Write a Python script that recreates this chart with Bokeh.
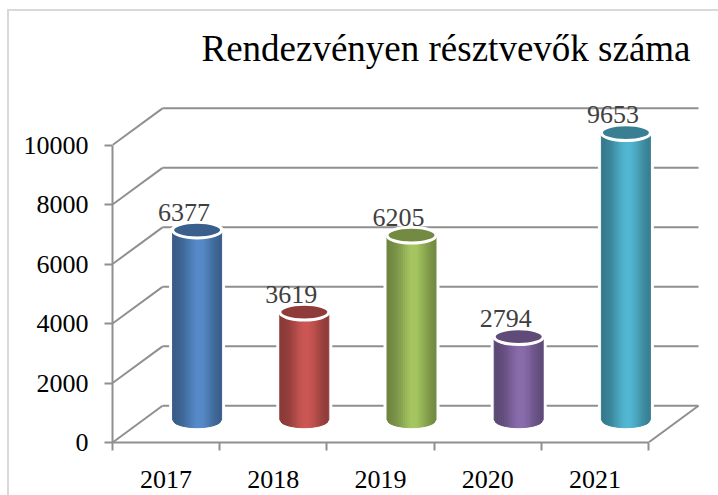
import numpy as np
from bokeh.plotting import figure
from bokeh.models import Range1d, FixedTicker, InlineStyleSheet
from bokeh.embed import file_html
from bokeh.resources import INLINE
from bokeh.core.properties import value

# ---- data ----
years = ["2017", "2018", "2019", "2020", "2021"]
participants = [6377, 3619, 6205, 2794, 9653]
y_ticks = [0, 2000, 4000, 6000, 8000, 10000]
title_text = "Rendezvényen résztvevők száma"

# ---- style ----
base_colors = ["#4F81BD", "#C0504D", "#9BBB59", "#8064A2", "#4BACC6"]
FONT = "'Liberation Serif', 'Times New Roman', serif"
GRID = "#8f8f8f"

W, H = 718, 495
ML, MR, MT, MB = 112, 18, 90, 53
fw, fh = W - ML - MR, H - MT - MB
n = len(years)
px_x = 107.2                    # pixels per category
px_y = 300.0 / max(y_ticks)     # pixels per value unit
DX = 50 / px_x                  # depth offset (x units)
DY = 37 / px_y                  # depth offset (value units)
f = 0.62                        # depth position of cylinders
a = 24.5 / px_x                 # cylinder half width
b = 8.0 / px_y                  # ellipse half height


def hex2rgb(h):
    h = h.lstrip("#")
    return np.array([int(h[i:i + 2], 16) for i in (0, 2, 4)], dtype=float)


def rgb2hex(c):
    c = np.clip(np.round(c), 0, 255).astype(int)
    return "#%02x%02x%02x" % tuple(c)


border_css = InlineStyleSheet(css="""
:host { position: relative; }
:host::after {
  content: ""; position: absolute; left: 7px; top: 9px; right: 0; bottom: 0;
  border-left: 2px solid #d9d9d9; border-top: 2px solid #d9d9d9;
  pointer-events: none; z-index: 100;
}
""")

p = figure(width=W, height=H, output_backend="svg", toolbar_location=None,
           x_range=Range1d(0, fw / px_x), y_range=Range1d(0, fh / px_y),
           min_border_left=ML, min_border_right=MR, min_border_top=MT,
           min_border_bottom=MB, outline_line_color=None,
           background_fill_color="white", border_fill_color="white",
           stylesheets=[border_css])
p.xgrid.visible = False
p.ygrid.visible = False

# title
p.title.text = title_text
p.title.align = "left"
p.title.offset = 89
p.title.text_font = FONT
p.title.text_font_size = "37px"
p.title.text_font_style = "normal"
p.title.text_color = "#000000"
p.title.standoff = 50

# walls / floor
x0s, y0s, x1s, y1s = [], [], [], []
for t in y_ticks:
    x0s.append(DX); y0s.append(t + DY); x1s.append(n + DX); y1s.append(t + DY)
    x0s.append(0); y0s.append(t); x1s.append(DX); y1s.append(t + DY)
x0s.append(n); y0s.append(0); x1s.append(n + DX); y1s.append(DY)
p.segment(x0=x0s, y0=y0s, x1=x1s, y1=y1s, line_color=GRID, line_width=2)

# cylinders
NS = 24
for i, (v, col) in enumerate(zip(participants, base_colors)):
    cx = i + 0.5 + f * DX
    yb = f * DY
    yt = v + f * DY
    rgb = hex2rgb(col)
    dark = rgb * 0.70
    light = np.minimum(rgb * 1.04 + 4, 255)
    # white outline silhouette
    p.quad(left=[cx - a], right=[cx + a], bottom=[yb], top=[yt],
           fill_color="white", line_color="white", line_width=7)
    p.ellipse(x=[cx], y=[yb], width=[2 * a], height=[2 * b],
              fill_color="white", line_color="white", line_width=7)
    xs, ys, cols = [], [], []
    for k in range(NS):
        s0 = k / NS
        s1 = (k + 1) / NS
        xa = cx - a + 2 * a * s0
        xb = cx - a + 2 * a * s1
        def ybot(xx):
            u = (xx - cx) / a
            return yb - b * np.sqrt(max(0.0, 1 - u * u))
        xs.append([xa, xb, xb, xa])
        ys.append([yt, yt, ybot(xb), ybot(xa)])
        sm = (s0 + s1) / 2
        w = np.exp(-((sm - 0.55) / 0.30) ** 2)
        cols.append(rgb2hex(dark + (light - dark) * w))
    p.patches(xs=xs, ys=ys, fill_color=cols, line_color=cols, line_width=1)
    p.ellipse(x=[cx], y=[yt], width=[2 * a], height=[2 * b],
              fill_color=rgb2hex(rgb * 0.74), line_color="white", line_width=3)
    p.text(x=[cx - 13 / px_x], y=[yt + b], text=[str(v)],
           text_align="center", text_baseline="alphabetic", y_offset=-10,
           text_font=value(FONT), text_font_size="26px", text_color="#404040")

# y axis (front)
p.yaxis.ticker = FixedTicker(ticks=y_ticks)
p.yaxis.bounds = (0, max(y_ticks))
p.yaxis.axis_line_color = GRID
p.yaxis.axis_line_width = 2
p.yaxis.major_tick_line_color = GRID
p.yaxis.major_tick_line_width = 2
p.yaxis.major_tick_out = 8
p.yaxis.major_tick_in = 0
p.yaxis.minor_tick_line_color = None
p.yaxis.major_label_standoff = 16
p.yaxis.major_label_text_font = FONT
p.yaxis.major_label_text_font_size = "26px"
p.yaxis.major_label_text_color = "#000000"

# x axis (front floor edge)
centers = [i + 0.5 for i in range(n)]
p.xaxis.ticker = FixedTicker(ticks=centers, minor_ticks=list(range(n + 1)))
p.xaxis.bounds = (0, n)
p.xaxis.major_label_overrides = {c: y for c, y in zip(centers, years)}
p.xaxis.axis_line_color = GRID
p.xaxis.axis_line_width = 2
p.xaxis.major_tick_line_color = None
p.xaxis.major_tick_out = 8
p.xaxis.major_tick_in = 0
p.xaxis.minor_tick_line_color = GRID
p.xaxis.minor_tick_line_width = 2
p.xaxis.minor_tick_out = 8
p.xaxis.minor_tick_in = 0
p.xaxis.major_label_standoff = 20
p.xaxis.major_label_text_font = FONT
p.xaxis.major_label_text_font_size = "26px"
p.xaxis.major_label_text_color = "#000000"

open("out.html", "w").write(file_html(p, INLINE))
